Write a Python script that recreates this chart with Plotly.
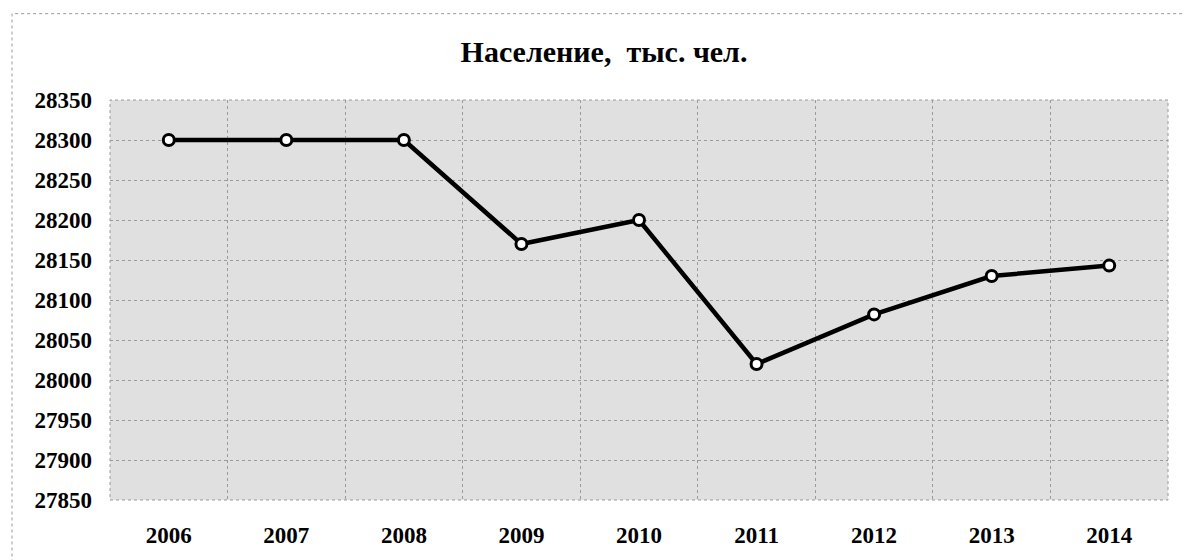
import plotly.graph_objects as go

years = ["2006", "2007", "2008", "2009", "2010", "2011", "2012", "2013", "2014"]
population = [28300, 28300, 28300, 28170, 28200, 28020, 28082, 28130, 28143]
y_ticks = [27850, 27900, 27950, 28000, 28050, 28100, 28150, 28200, 28250, 28300, 28350]
title_text = "Население,\u00a0 тыс. чел."

FONT = "Liberation Serif"

fig = go.Figure()
fig.add_trace(go.Scatter(
    x=years, y=population, mode="lines+markers",
    line=dict(color="#000000", width=4.5),
    marker=dict(symbol="circle", size=11, color="#ffffff",
                line=dict(color="#000000", width=3)),
    showlegend=False, hoverinfo="x+y",
))

fig.update_layout(
    width=1185, height=560,
    margin=dict(l=110, r=17, t=100, b=57),
    paper_bgcolor="#ffffff",
    plot_bgcolor="#e0e0e0",
    title=dict(text="<b>" + title_text + "</b>", xref="container", yref="container",
               x=604 / 1185, y=1 - 51 / 560, xanchor="center", yanchor="middle",
               font=dict(family=FONT, size=30, color="#000000")),
    font=dict(family=FONT, color="#000000"),
)

fig.update_xaxes(
    type="category", range=[-0.5, len(years) - 0.5],
    tickvals=years, ticktext=["<b>%s</b>" % y for y in years],
    tickson="boundaries", ticks="",
    showgrid=True, gridcolor="#9a9a9a", griddash="dot", gridwidth=1,
    tickfont=dict(family=FONT, size=23, color="#000000"),
    ticklabelstandoff=19, showline=False, zeroline=False,
)
fig.update_yaxes(
    range=[y_ticks[0], y_ticks[-1]], tickvals=y_ticks,
    ticktext=["<b>%d</b>" % v for v in y_ticks],
    ticks="", showgrid=True, gridcolor="#9a9a9a", griddash="dot", gridwidth=1,
    tickfont=dict(family=FONT, size=23, color="#000000"),
    ticklabelstandoff=17, showline=False, zeroline=False,
)

# plot area border (dotted)
fig.add_shape(type="rect", xref="paper", yref="paper", x0=0, x1=1, y0=0, y1=1,
              line=dict(color="#9a9a9a", width=1, dash="dot"), layer="below")
# outer chart frame (dotted, extends past the right and bottom edges)
fig.add_shape(type="rect", xref="paper", yref="paper",
              x0=-98 / 1058, x1=1.05, y0=-0.3, y1=1 + 87 / 403,
              line=dict(color="#9a9a9a", width=1, dash="dot"))

fig.write_html("out.html")
